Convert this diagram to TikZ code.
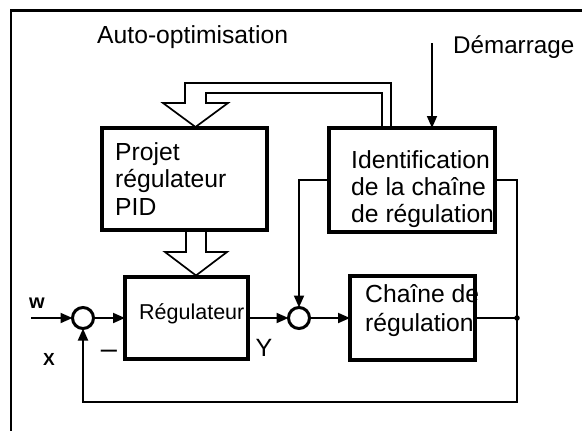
\documentclass[tikz,border=0pt]{standalone}
\usepackage{fontspec}
\setmainfont{Liberation Sans}
\usetikzlibrary{arrows.meta,calc}
\begin{document}
\begin{tikzpicture}[x=1pt,y=-1pt,
  blk/.style={draw, line width=3.4pt, inner sep=0pt, outer sep=0pt, anchor=north west},
  sumc/.style={draw, circle, line width=3pt, minimum size=21pt, inner sep=0pt, outer sep=0pt},
  conn/.style={line width=1.9pt},
  arr/.style={conn, -{Triangle[length=12pt,width=10pt]}},
  hollow/.style={line width=1.7pt, line join=miter},
  txt/.style={anchor=base west, inner sep=0pt, font=\fontsize{24.7}{29}\selectfont},
  lbl/.style={inner sep=0pt}]
\useasboundingbox (0,0) rectangle (582,431);
% frame
\draw[line width=2.2pt] (11,431) -- (11,10.5) -- (582,10.5);
% blocks
\node[blk, minimum width=165pt, minimum height=102pt] (pid) at (102,128) {};
\node[blk, minimum width=166pt, minimum height=104pt] (ident) at (329,128) {};
\node[blk, minimum width=123pt, minimum height=82pt] (reg) at (125,277) {};
\node[blk, minimum width=125pt, minimum height=84pt] (chaine) at (350,276) {};
\node[sumc] (s1) at (83,318) {};
\node[sumc] (s2) at (299,318) {};
\node[circle, fill, inner sep=0pt, minimum size=5.5pt] (j) at (517,318) {};
\coordinate (win) at (31,318);
\coordinate (fb) at (83,402);
\coordinate (dem) at (432,43);
% texts
\node[txt] (ao) at (97,43) {Auto-optimisation};
\node[txt, font=\fontsize{24.2}{29}\selectfont] (dm) at (453,53) {Démarrage};
\node[txt] (p1) at (115,160) {Projet};
\node[txt] (p2) at (115,187.5) {régulateur};
\node[txt] (p3) at (115,215) {PID};
\node[txt] (i1) at (351,168) {Identification};
\node[txt] (i2) at (351,195) {de la chaîne};
\node[txt] (i3) at (351,222) {de régulation};
\node[txt] (c1) at (365,302) {Chaîne de};
\node[txt] (c2) at (365,331) {régulation};
\node[txt, font=\fontsize{21.5}{25}\selectfont] (rt) at (139,319) {Régulateur};
\node[lbl, font=\bfseries\fontsize{20}{24}\selectfont] (w) at (37,303) {w};
\node[lbl, font=\bfseries\fontsize{17.5}{21}\selectfont] (x) at (49,359) {X};
\node[lbl, font=\fontsize{25}{29}\selectfont] (y) at (264,348) {Y};
\node[lbl, anchor=base, font=\fontsize{29}{29}\selectfont] (m) at (109,358) {\textendash};
% connectors
\draw[arr] (win) -- (s1.west);
\draw[arr] (s1.east) -- (reg.west);
\draw[arr] (reg.east) -- (s2.west);
\draw[arr] (s2.east) -- (chaine.west);
\draw[conn] (chaine.east) -- (j.center);
\draw[conn] (ident.east) -| (j.center);
\draw[arr] (ident.west) -| (s2.north);
\draw[arr] (j.center) |- (fb) -- (s1.south);
\draw[arr, line width=1.6pt] (dem) -- (dem |- ident.north);
% hollow arrows
\draw[hollow] (382,128) -- (382,93) -- (206,93) -- (206,103) -- (228,103) -- (195.5,127) -- (163,103) -- (185,103) -- (185,83) -- (391,83) -- (391,128);
\draw[hollow] (186,230) -- (186,252) -- (165,252) -- (196,275.5) -- (227,252) -- (206,252) -- (206,230);
\end{tikzpicture}
\end{document}
